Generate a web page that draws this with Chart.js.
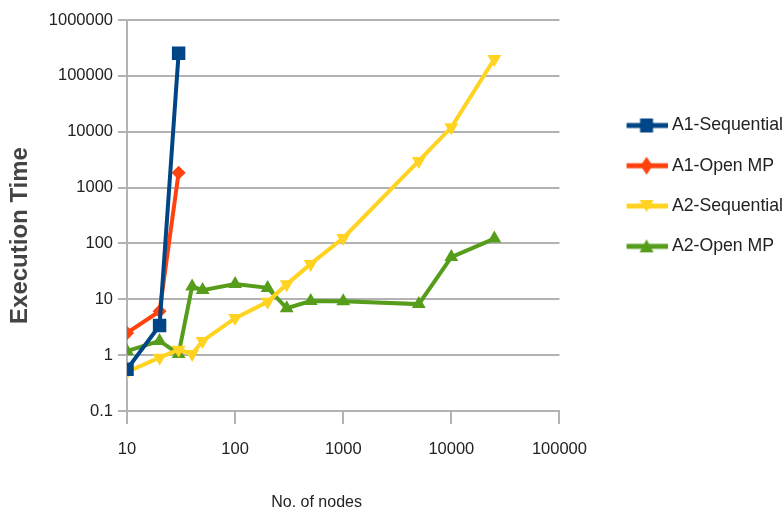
<!DOCTYPE html>
<html>
<head>
<meta charset="utf-8">
<script src="https://cdn.jsdelivr.net/npm/chart.js@4/dist/chart.umd.min.js"></script>
<style>
  html, body { margin: 0; padding: 0; background: #fff; }
  #wrap { width: 784px; height: 518px; }
</style>
</head>
<body>
<div id="wrap"><canvas id="perfChart"></canvas></div>
<script>
// node counts (x) and execution times (y)
const a1Nodes = [10, 20, 30];
const a1Sequential = [0.56, 3.4, 253000];
const a1OpenMP = [2.5, 6.1, 1850];

const a2Nodes = [10, 20, 30, 40, 50, 100, 200, 300, 500, 1000, 5000, 10000, 25000];
const a2Sequential = [0.5, 0.9, 1.25, 1.05, 1.8, 4.6, 9, 18.5, 43, 125, 3000, 12000, 200000];
const a2OpenMP = [1.18, 1.8, 1.05, 17, 14.6, 18.7, 16, 6.9, 9.3, 9.2, 8.2, 57, 122];

const xTicks = [10, 100, 1000, 10000, 100000];
const yTicks = [0.1, 1, 10, 100, 1000, 10000, 100000, 1000000];

const FONT = "'Liberation Sans', Arial, sans-serif";

function toPoints(xs, ys) {
  return xs.map((x, i) => ({ x: x, y: ys[i] }));
}

// small picture for the legend: a line with the marker in the middle
function legendIcon(color, shape) {
  const c = document.createElement('canvas');
  c.width = 90;
  c.height = 20;
  const g = c.getContext('2d');
  g.strokeStyle = color;
  g.fillStyle = color;
  g.lineWidth = 5;
  g.beginPath();
  g.moveTo(49, 10);
  g.lineTo(90, 10);
  g.stroke();
  const m = 69;
  g.beginPath();
  if (shape === 'rect') {
    g.rect(m - 6.5, 3, 13, 14);
  } else if (shape === 'diamond') {
    g.moveTo(m, 1); g.lineTo(m + 6, 10); g.lineTo(m, 19); g.lineTo(m - 6, 10);
  } else if (shape === 'down') {
    g.moveTo(m - 7, 4); g.lineTo(m + 7, 4); g.lineTo(m, 16);
  } else {
    g.moveTo(m, 3); g.lineTo(m + 7, 16); g.lineTo(m - 7, 16);
  }
  g.closePath();
  g.fill();
  return c;
}

const series = [
  { label: 'A1-Sequential', xs: a1Nodes, ys: a1Sequential, color: '#004586', style: 'rect', rot: 0, r: 9.5, icon: 'rect' },
  { label: 'A1-Open MP', xs: a1Nodes, ys: a1OpenMP, color: '#ff420e', style: 'rectRot', rot: 0, r: 7, icon: 'diamond' },
  { label: 'A2-Sequential', xs: a2Nodes, ys: a2Sequential, color: '#ffd320', style: 'triangle', rot: 180, r: 8, icon: 'down' },
  { label: 'A2-Open MP', xs: a2Nodes, ys: a2OpenMP, color: '#579d1c', style: 'triangle', rot: 0, r: 8, icon: 'up' },
];

const icons = series.map(s => legendIcon(s.color, s.icon));

const datasets = series.map(s => ({
  label: s.label,
  data: toPoints(s.xs, s.ys),
  borderColor: s.color,
  backgroundColor: s.color,
  borderWidth: 4,
  pointStyle: s.style,
  pointRotation: s.rot,
  pointRadius: s.r,
  pointHoverRadius: s.r,
  pointBorderWidth: 0,
  tension: 0,
  fill: false,
}));

const ctx = document.getElementById('perfChart').getContext('2d');
new Chart(ctx, {
  type: 'line',
  data: { datasets: datasets },
  options: {
    responsive: true,
    maintainAspectRatio: false,
    animation: false,
    layout: { padding: { left: 6, top: 20, right: -9, bottom: 6 } },
    scales: {
      x: {
        type: 'logarithmic',
        min: 10,
        max: 100000,
        afterBuildTicks: (scale) => { scale.ticks = xTicks.map(v => ({ value: v })); },
        ticks: {
          color: '#222',
          font: { family: FONT, size: 16.5 },
          padding: 16,
          maxRotation: 0,
          autoSkip: false,
          callback: (v) => String(v),
        },
        grid: { drawOnChartArea: false, color: '#b3b3b3', lineWidth: 2, tickLength: 13 },
        border: { color: '#b3b3b3', width: 2 },
        title: {
          display: true,
          text: 'No. of nodes\u00a0\u00a0\u00a0\u00a0\u00a0\u00a0\u00a0\u00a0\u00a0\u00a0\u00a0\u00a0',
          color: '#222',
          font: { family: FONT, size: 16 },
          padding: { top: 17, bottom: 0 },
        },
      },
      y: {
        type: 'logarithmic',
        min: 0.1,
        max: 1000000,
        afterBuildTicks: (scale) => { scale.ticks = yTicks.map(v => ({ value: v })); },
        ticks: {
          color: '#222',
          font: { family: FONT, size: 16.5 },
          padding: 5,
          autoSkip: false,
          callback: (v) => String(v),
        },
        grid: { color: '#b3b3b3', lineWidth: 2, tickLength: 9 },
        border: { color: '#b3b3b3', width: 2 },
        title: {
          display: true,
          text: 'Execution Time\u00a0\u00a0\u00a0\u00a0\u00a0\u00a0',
          color: '#444',
          font: { family: FONT, size: 24, weight: 'bold' },
          padding: { top: 0, bottom: 9 },
        },
      },
    },
    plugins: {
      legend: {
        position: 'right',
        align: 'start',
        maxWidth: 300,
        title: { display: true, text: '', font: { size: 10 }, padding: { top: 62, bottom: 0 } },
        labels: {
          color: '#222',
          font: { family: FONT, size: 17.7 },
          usePointStyle: true,
          pointStyleWidth: 81,
          boxHeight: 18,
          padding: 22.6,
          generateLabels: (chart) => chart.data.datasets.map((d, i) => ({
            text: d.label,
            fillStyle: d.backgroundColor,
            strokeStyle: d.borderColor,
            fontColor: '#222',
            lineWidth: 0,
            pointStyle: icons[i],
            hidden: false,
            datasetIndex: i,
          })),
        },
      },
      tooltip: { enabled: false },
    },
  },
});
</script>
</body>
</html>
